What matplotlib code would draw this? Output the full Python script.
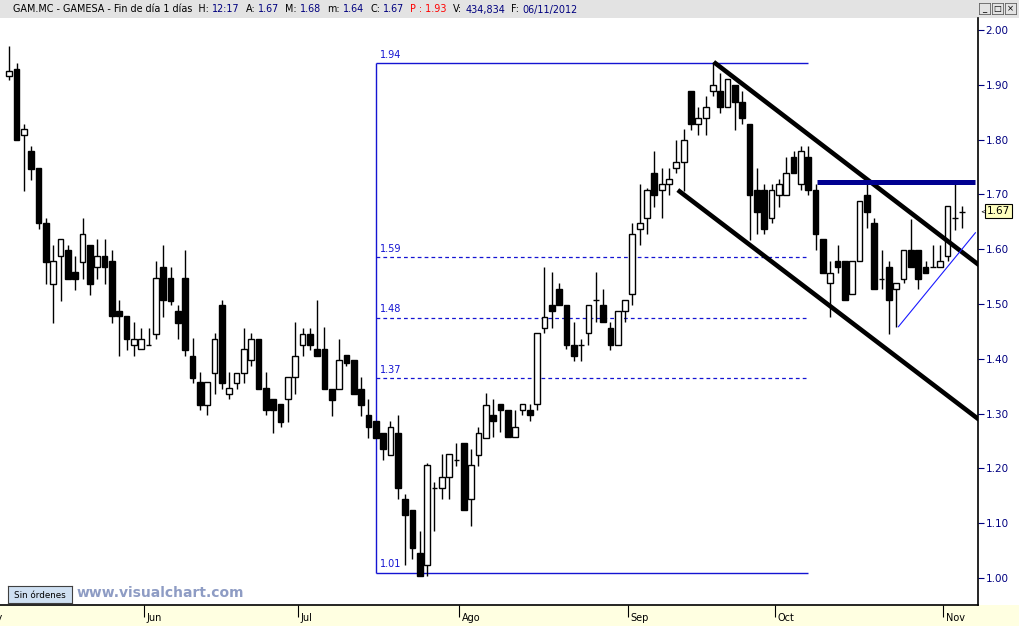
import numpy as np
import matplotlib.pyplot as plt
from matplotlib.patches import Rectangle

# Daily OHLC, GAM.MC (one row per session, oldest first)
opens = [1.916, 1.929, 1.808, 1.780, 1.749, 1.648, 1.537, 1.587, 1.598, 1.558,
         1.577, 1.607, 1.567, 1.587, 1.578, 1.487, 1.478, 1.426, 1.417, 1.426,
         1.446, 1.567, 1.547, 1.487, 1.548, 1.406, 1.357, 1.316, 1.375, 1.498,
         1.336, 1.356, 1.375, 1.397, 1.437, 1.346, 1.326, 1.317, 1.326, 1.366,
         1.426, 1.446, 1.417, 1.417, 1.345, 1.345, 1.407, 1.397, 1.345, 1.297,
         1.286, 1.265, 1.225, 1.265, 1.145, 1.125, 1.045, 1.024, 1.164, 1.164,
         1.185, 1.215, 1.246, 1.145, 1.225, 1.256, 1.297, 1.317, 1.306, 1.257,
         1.307, 1.307, 1.317, 1.457, 1.498, 1.527, 1.498, 1.426, 1.426, 1.447,
         1.507, 1.498, 1.456, 1.426, 1.487, 1.518, 1.637, 1.657, 1.739, 1.708,
         1.719, 1.749, 1.759, 1.889, 1.829, 1.839, 1.889, 1.889, 1.859, 1.900,
         1.869, 1.829, 1.708, 1.708, 1.657, 1.698, 1.698, 1.769, 1.719, 1.769,
         1.708, 1.618, 1.538, 1.578, 1.578, 1.518, 1.578, 1.699, 1.648, 1.546,
         1.568, 1.527, 1.546, 1.598, 1.598, 1.568, 1.568, 1.568, 1.588, 1.657,
         1.668]
highs = [1.970, 1.940, 1.829, 1.789, 1.749, 1.657, 1.608, 1.618, 1.608, 1.588,
         1.657, 1.607, 1.618, 1.618, 1.598, 1.507, 1.478, 1.467, 1.457, 1.457,
         1.579, 1.608, 1.568, 1.498, 1.599, 1.438, 1.376, 1.357, 1.447, 1.507,
         1.376, 1.375, 1.457, 1.447, 1.437, 1.376, 1.326, 1.317, 1.366, 1.467,
         1.457, 1.457, 1.507, 1.458, 1.345, 1.437, 1.407, 1.397, 1.367, 1.326,
         1.286, 1.265, 1.286, 1.297, 1.154, 1.125, 1.085, 1.210, 1.175, 1.226,
         1.226, 1.246, 1.246, 1.236, 1.276, 1.337, 1.327, 1.317, 1.306, 1.307,
         1.317, 1.317, 1.447, 1.568, 1.558, 1.538, 1.498, 1.467, 1.437, 1.498,
         1.558, 1.527, 1.467, 1.487, 1.507, 1.647, 1.719, 1.712, 1.780, 1.749,
         1.749, 1.800, 1.820, 1.889, 1.860, 1.880, 1.941, 1.921, 1.910, 1.900,
         1.889, 1.829, 1.749, 1.719, 1.719, 1.729, 1.769, 1.780, 1.789, 1.789,
         1.719, 1.618, 1.578, 1.607, 1.578, 1.578, 1.688, 1.719, 1.657, 1.598,
         1.578, 1.538, 1.598, 1.656, 1.598, 1.578, 1.607, 1.607, 1.679, 1.719,
         1.679]
lows = [1.909, 1.799, 1.707, 1.727, 1.636, 1.537, 1.466, 1.506, 1.546, 1.526,
        1.546, 1.516, 1.546, 1.537, 1.466, 1.405, 1.416, 1.405, 1.417, 1.426,
        1.437, 1.476, 1.498, 1.437, 1.406, 1.356, 1.306, 1.297, 1.336, 1.345,
        1.326, 1.345, 1.356, 1.386, 1.345, 1.297, 1.265, 1.276, 1.285, 1.336,
        1.406, 1.416, 1.406, 1.345, 1.296, 1.345, 1.387, 1.336, 1.296, 1.256,
        1.256, 1.215, 1.225, 1.144, 1.024, 1.034, 1.004, 1.004, 1.085, 1.144,
        1.144, 1.205, 1.125, 1.095, 1.205, 1.256, 1.257, 1.266, 1.257, 1.257,
        1.297, 1.286, 1.306, 1.447, 1.457, 1.498, 1.417, 1.396, 1.396, 1.426,
        1.467, 1.467, 1.416, 1.426, 1.467, 1.498, 1.607, 1.627, 1.677, 1.657,
        1.698, 1.739, 1.707, 1.818, 1.808, 1.808, 1.879, 1.848, 1.859, 1.818,
        1.829, 1.617, 1.627, 1.627, 1.647, 1.677, 1.698, 1.739, 1.708, 1.698,
        1.598, 1.557, 1.477, 1.557, 1.507, 1.518, 1.578, 1.638, 1.527, 1.527,
        1.446, 1.458, 1.538, 1.568, 1.527, 1.557, 1.568, 1.568, 1.578, 1.635,
        1.638]
closes = [1.926, 1.799, 1.819, 1.747, 1.647, 1.577, 1.578, 1.618, 1.546, 1.546,
          1.627, 1.537, 1.587, 1.567, 1.478, 1.478, 1.437, 1.437, 1.437, 1.426,
          1.547, 1.507, 1.506, 1.466, 1.416, 1.365, 1.316, 1.357, 1.437, 1.356,
          1.346, 1.375, 1.417, 1.437, 1.345, 1.306, 1.306, 1.285, 1.366, 1.406,
          1.446, 1.426, 1.406, 1.345, 1.325, 1.397, 1.392, 1.336, 1.316, 1.276,
          1.256, 1.235, 1.276, 1.164, 1.115, 1.054, 1.004, 1.206, 1.164, 1.185,
          1.226, 1.215, 1.125, 1.206, 1.265, 1.316, 1.286, 1.306, 1.257, 1.276,
          1.317, 1.297, 1.447, 1.477, 1.487, 1.498, 1.426, 1.406, 1.426, 1.498,
          1.507, 1.467, 1.426, 1.487, 1.507, 1.627, 1.647, 1.708, 1.698, 1.719,
          1.728, 1.759, 1.799, 1.829, 1.839, 1.860, 1.900, 1.859, 1.910, 1.869,
          1.839, 1.698, 1.667, 1.637, 1.708, 1.719, 1.739, 1.739, 1.779, 1.708,
          1.627, 1.557, 1.557, 1.568, 1.507, 1.578, 1.688, 1.667, 1.527, 1.546,
          1.507, 1.538, 1.598, 1.568, 1.546, 1.557, 1.568, 1.578, 1.679, 1.657,
          1.668]

# month labels and the session index where each month starts
month_names = ['May', 'Jun', 'Jul', 'Ago', 'Sep', 'Oct', 'Nov']
month_start = [-3.5, 19, 40, 62, 85, 105, 128]

# fibonacci retracement drawn on the chart
fib_top, fib_bottom = 1.94, 1.01
fib_levels = [1.585, 1.475, 1.365]
fib_labels = ['1.59', '1.48', '1.37']
fib_span = [50.0, 109.0]

# hand drawn lines: (session index, price)
channel_upper = ([96.1, 132.3], [1.9416, 1.571])
channel_lower = ([91.2, 132.3], [1.708, 1.289])
resistance = ([110.2, 131.7], [1.7226, 1.7226])
support = ([121.3, 131.8], [1.4586, 1.630])

last_price = 1.67
price_ticks = [1.00, 1.10, 1.20, 1.30, 1.40, 1.50, 1.60, 1.70, 1.80, 1.90, 2.00]

W, H = 1020, 626
fig = plt.figure(figsize=(W / 100, H / 100), dpi=100)
fig.patch.set_facecolor('white')

def px(x0, y0, x1, y1):
    # pixel box (top-left origin) -> figure fraction rect
    return [x0 / W, 1 - y1 / H, (x1 - x0) / W, (y1 - y0) / H]

# header bar
hdr = fig.add_axes(px(0, 0, W, 18))
hdr.set_facecolor('#e3e3e3')
hdr.set_xticks([]); hdr.set_yticks([])
for s in hdr.spines.values():
    s.set_visible(False)

# date strip
strip = fig.add_axes(px(0, 605, W, H))
strip.set_facecolor('#ffffe1')
strip.set_xticks([]); strip.set_yticks([])
for s in strip.spines.values():
    s.set_visible(False)

# price chart
ax = fig.add_axes(px(0, 18, 978, 605))
ax.set_facecolor('white')
x_left = -9.3 / 7.33
x_right = (978 - 9.3) / 7.33
ax.set_xlim(x_left, x_right)
ax.set_ylim(2 - 575 / 548, 2 + 12 / 548)

o = np.array(opens); h = np.array(highs); l = np.array(lows); c = np.array(closes)
idx = np.arange(len(o))
up = c >= o

ax.vlines(idx, l, h, color='black', lw=1.0, zorder=2)
bw = 0.78
body_lo = np.minimum(o, c)
body_hi = np.maximum(o, c)
for i in idx:
    hgt = body_hi[i] - body_lo[i]
    if hgt < 0.002:
        ax.hlines(body_lo[i], i - bw / 2, i + bw / 2, color='black', lw=1.0, zorder=3)
        continue
    ax.add_patch(Rectangle((i - bw / 2, body_lo[i]), bw, hgt,
                           facecolor='white' if up[i] else 'black',
                           edgecolor='black', lw=1.0, zorder=3))

# fibonacci box
fib_col = '#1414d2'
ax.vlines(fib_span[0], fib_bottom, fib_top, color=fib_col, lw=1.0, zorder=1)
ax.hlines([fib_top, fib_bottom], fib_span[0], fib_span[1], color=fib_col, lw=1.0, zorder=1)
ax.hlines(fib_levels, fib_span[0], fib_span[1], color=fib_col, lw=0.9,
          linestyles=(0, (3, 2.5)), zorder=1)
for val, lab in zip([fib_top] + fib_levels + [fib_bottom],
                    ['1.94'] + fib_labels + ['1.01']):
    ax.text(fib_span[0] + 0.55, val + 0.006, lab, color=fib_col, fontsize=7,
            va='bottom', ha='left', zorder=1)

# trend lines
ax.plot(*channel_upper, color='black', lw=3.3, solid_capstyle='butt', zorder=4)
ax.plot(*channel_lower, color='black', lw=3.3, solid_capstyle='butt', zorder=4)
ax.plot(*resistance, color='#000090', lw=3.6, solid_capstyle='butt', zorder=4)
ax.plot(*support, color='#1a1aff', lw=0.8, zorder=4)

# right price axis
ax.yaxis.tick_right()
ax.set_yticks(price_ticks)
ax.set_yticklabels(['%.2f' % v for v in price_ticks])
ax.tick_params(axis='y', direction='out', length=4, width=0.8, pad=1.5,
               labelsize=7.5, labelcolor='#000080', color='#000080')
ax.set_xticks([])
for side in ['top', 'left']:
    ax.spines[side].set_visible(False)
ax.spines['right'].set_linewidth(1.2)
ax.spines['bottom'].set_linewidth(1.2)

# last price tag
ax.annotate('%.2f' % last_price, xy=(1.0, last_price), xycoords=('axes fraction', 'data'),
            xytext=(9, 0), textcoords='offset pixels', fontsize=7.5, color='black',
            va='center', ha='left', annotation_clip=False,
            bbox=dict(boxstyle='square,pad=0.18', fc='#ffffc0', ec='black', lw=0.8))
ax.annotate('<', xy=(1.0, last_price), xycoords=('axes fraction', 'data'),
            xytext=(2, 0), textcoords='offset pixels', fontsize=5, color='black',
            va='center', ha='left', annotation_clip=False)

# month ticks on the date strip
strip.set_xlim(x_left, x_left + W / 7.33)
strip.set_ylim(0, 1)
for name, start in zip(month_names, month_start):
    tx = start - 0.6
    strip.vlines(tx, 0.45, 1.0, color='black', lw=0.8)
    strip.text(tx + 0.35, 0.38, name, fontsize=7, va='center', ha='left',
               color='black', clip_on=True)

# "Sin órdenes" button and watermark
btn = fig.add_axes(px(8, 586, 72, 603))
btn.set_facecolor('#cfe0f2')
btn.set_xticks([]); btn.set_yticks([])
for s in btn.spines.values():
    s.set_linewidth(0.8)
    s.set_color('#404040')
btn.text(0.5, 0.45, 'Sin órdenes', fontsize=6.3, ha='center', va='center',
         transform=btn.transAxes)
fig.text(77 / W, 1 - 593 / H, 'www.visualchart.com', fontsize=10, fontweight='bold',
         color='#8e9cc4', va='center', ha='left')

# window buttons top right
for k, sym in enumerate(['_', '□', '×']):
    b = fig.add_axes(px(979 + k * 13, 3, 990 + k * 13, 14))
    b.set_facecolor('#e3e3e3')
    b.set_xticks([]); b.set_yticks([])
    for s in b.spines.values():
        s.set_linewidth(0.6)
        s.set_color('#606060')
    b.text(0.5, 0.5, sym, fontsize=6, ha='center', va='center', transform=b.transAxes)

# header text, pieces laid out one after another
navy = '#00007f'
pieces = [('GAM.MC - GAMESA - Fin de día 1 días  H:', 'black', 3),
          ('12:17', navy, 6), ('A:', 'black', 3), ('1.67', navy, 6),
          ('M:', 'black', 3), ('1.68', navy, 6), ('m:', 'black', 3), ('1.64', navy, 6),
          ('C:', 'black', 3), ('1.67', navy, 6), ('P : 1.93', 'red', 6),
          ('V:', 'black', 3), ('434,834', navy, 6), ('F:', 'black', 3),
          ('06/11/2012', navy, 0)]
renderer = fig.canvas.get_renderer()
xpos = 13
for s, col, gap in pieces:
    t = fig.text(xpos / W, 1 - 9.5 / H, s, fontsize=6.9, color=col, va='center', ha='left')
    bb = t.get_window_extent(renderer)
    xpos = bb.x1 + gap

fig.savefig('out.png', dpi=100)
